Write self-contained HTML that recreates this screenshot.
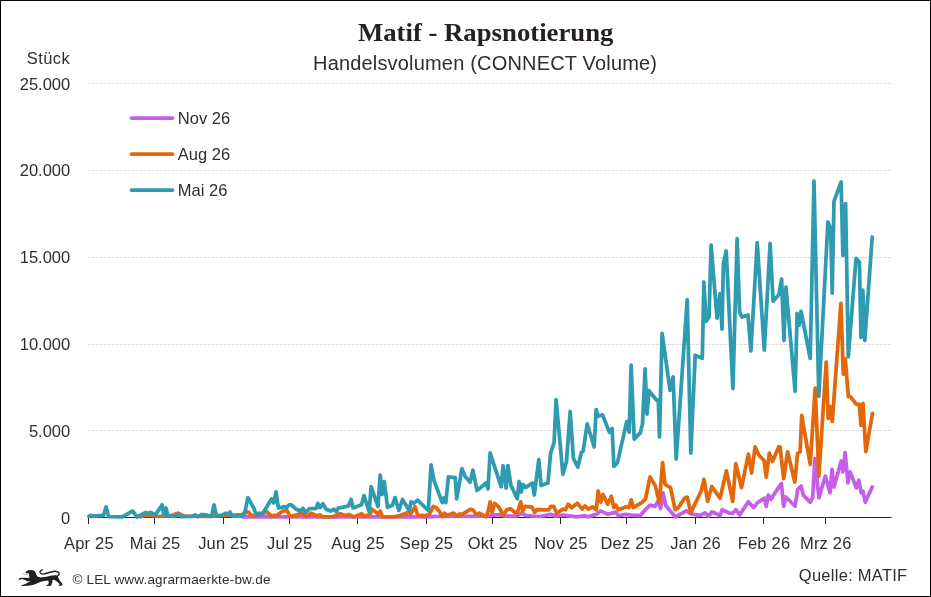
<!DOCTYPE html>
<html lang="de"><head><meta charset="utf-8"><title>Matif - Rapsnotierung</title>
<style>
html,body{margin:0;padding:0;background:#fff;}
svg{display:block;}
text{font-family:"Liberation Sans",sans-serif;fill:#322d2a;}
.t{font-family:"Liberation Serif",serif;font-weight:bold;font-size:25px;fill:#26211e;}
.s{font-size:20px;}
.a{font-size:16.5px;}
.x{letter-spacing:0.2px;}
.f{font-size:13.5px;}
.l{fill:none;stroke-width:3.75;stroke-linejoin:round;stroke-linecap:round;}
</style></head><body>
<svg width="931" height="597" viewBox="0 0 931 597">
<rect x="0" y="0" width="931" height="597" fill="#fff"/>
<line x1="88" y1="83.5" x2="891.5" y2="83.5" stroke="#e0dddb" stroke-width="1" stroke-dasharray="3 1"/>
<line x1="88" y1="170.5" x2="891.5" y2="170.5" stroke="#e0dddb" stroke-width="1" stroke-dasharray="3 1"/>
<line x1="88" y1="257.5" x2="891.5" y2="257.5" stroke="#e0dddb" stroke-width="1" stroke-dasharray="3 1"/>
<line x1="88" y1="344.5" x2="891.5" y2="344.5" stroke="#e0dddb" stroke-width="1" stroke-dasharray="3 1"/>
<line x1="88" y1="430.5" x2="891.5" y2="430.5" stroke="#e0dddb" stroke-width="1" stroke-dasharray="3 1"/>
<line x1="88" y1="517.5" x2="891.5" y2="517.5" stroke="#2b2623" stroke-width="1"/>
<line x1="88.5" y1="517" x2="88.5" y2="524" stroke="#2b2623" stroke-width="1"/>
<line x1="154.5" y1="517" x2="154.5" y2="524" stroke="#2b2623" stroke-width="1"/>
<line x1="223.5" y1="517" x2="223.5" y2="524" stroke="#2b2623" stroke-width="1"/>
<line x1="289.5" y1="517" x2="289.5" y2="524" stroke="#2b2623" stroke-width="1"/>
<line x1="357.5" y1="517" x2="357.5" y2="524" stroke="#2b2623" stroke-width="1"/>
<line x1="426.5" y1="517" x2="426.5" y2="524" stroke="#2b2623" stroke-width="1"/>
<line x1="492.5" y1="517" x2="492.5" y2="524" stroke="#2b2623" stroke-width="1"/>
<line x1="560.5" y1="517" x2="560.5" y2="524" stroke="#2b2623" stroke-width="1"/>
<line x1="626.5" y1="517" x2="626.5" y2="524" stroke="#2b2623" stroke-width="1"/>
<line x1="695.5" y1="517" x2="695.5" y2="524" stroke="#2b2623" stroke-width="1"/>
<line x1="763.5" y1="517" x2="763.5" y2="524" stroke="#2b2623" stroke-width="1"/>
<line x1="825.5" y1="517" x2="825.5" y2="524" stroke="#2b2623" stroke-width="1"/>
<text class="t" x="485.7" y="40.8" text-anchor="middle" textLength="255.5" lengthAdjust="spacingAndGlyphs">Matif - Rapsnotierung</text>
<text class="s" x="485" y="70.3" text-anchor="middle" textLength="344" lengthAdjust="spacing">Handelsvolumen (CONNECT Volume)</text>
<text class="a" x="69.8" y="63.6" text-anchor="end" textLength="43" lengthAdjust="spacing">Stück</text>
<text class="a" x="70.2" y="89.7" text-anchor="end">25.000</text>
<text class="a" x="70.2" y="176.4" text-anchor="end">20.000</text>
<text class="a" x="70.2" y="263.2" text-anchor="end">15.000</text>
<text class="a" x="70.2" y="349.9" text-anchor="end">10.000</text>
<text class="a" x="70.2" y="436.7" text-anchor="end">5.000</text>
<text class="a" x="70.2" y="523.5" text-anchor="end">0</text>
<text class="a x" x="88.9" y="548.8" text-anchor="middle">Apr 25</text>
<text class="a x" x="155.1" y="548.8" text-anchor="middle">Mai 25</text>
<text class="a x" x="223.5" y="548.8" text-anchor="middle">Jun 25</text>
<text class="a x" x="289.7" y="548.8" text-anchor="middle">Jul 25</text>
<text class="a x" x="358.1" y="548.8" text-anchor="middle">Aug 25</text>
<text class="a x" x="426.5" y="548.8" text-anchor="middle">Sep 25</text>
<text class="a x" x="492.7" y="548.8" text-anchor="middle">Okt 25</text>
<text class="a x" x="561.0" y="548.8" text-anchor="middle">Nov 25</text>
<text class="a x" x="627.2" y="548.8" text-anchor="middle">Dez 25</text>
<text class="a x" x="695.6" y="548.8" text-anchor="middle">Jan 26</text>
<text class="a x" x="764.0" y="548.8" text-anchor="middle">Feb 26</text>
<text class="a x" x="825.8" y="548.8" text-anchor="middle">Mrz 26</text>
<polyline class="l" stroke="#c55fe9" points="242.5,516.8 330,516.8 425,516.9 440,516.3 486,516.2 499,514.6 505,516.1 517,515.8 521.5,513.1 526,515.5 540,516.5 550.6,514.4 555.8,516.1 562.9,515.1 577,516.9 584.9,515.6 587.5,516.9 596.3,514.4 600.7,510.9 607.7,514.4 615.7,512.1 618.3,515.6 626.2,514.4 631.5,515.1 640.3,515.6 645.6,509.5 650,505.1 655.2,506.5 658.4,500.2 660.5,508.6 663,492.9 665.7,505.5 670.9,511.8 675.5,517 686.6,510.7 690.8,513.9 700.2,515.3 704.8,512.8 708.6,516 711.8,511.8 720.1,515.5 722.2,509.7 728.5,512.8 732.7,513.4 735.8,509.7 739.6,514.9 748.4,501.7 753.6,507.6 757.8,502.3 764.7,498.2 766.2,506.5 768.3,495 771,499.2 775.6,491.9 781.4,483.6 783.7,506.3 785.9,497 795.1,506.3 797.6,489.5 801,486.1 803.5,495.4 810.2,502.1 812.7,497.9 814.9,458.5 818.9,497.9 825.3,476.1 830,492.8 832,469.4 834,487 841.2,461 842.9,471.9 845.1,452.6 847.9,482.8 850.1,471.9 856.3,487.8 858.8,480.3 861.3,492.8 863,491.2 865.2,502.1 872.2,487"/>
<polyline class="l" stroke="#e2680a" points="140.5,516.8 146,515.3 152,515.5 158,516.5 170,516 177.8,513.2 184,516 200,516.5 211.6,516.4 242.5,514.5 247.9,511.9 252.8,516.4 259.3,514.5 267,511.9 271.5,516.4 274.1,515.1 276,516.1 282.5,511.2 287,510.6 290.2,516.4 296,515.1 301.8,513.2 306.3,516.7 310.9,513.2 316.7,515.8 320.2,515 322.7,516.9 333.1,516.7 340.2,513.7 346,515.6 348.8,514.4 353.7,516.9 357.6,515.6 361.5,513.7 364.7,516.7 367.9,515 369.8,515 372,509.2 378,513.7 380.2,511.1 382.7,516.9 395,516.7 400.2,515.6 407.9,512.4 411.1,513.7 415,506.6 417.6,515 426,515.9 429.8,513.5 433.3,506.4 436.3,507.8 440.1,512.4 442.3,516.6 444.3,513.1 446.9,515.4 453.6,513.1 456.7,516.1 460,513.9 461.9,514.6 470.2,509.3 473.2,510.1 476.3,514.6 479.3,513.1 486.1,516.9 488.3,510.9 490.1,501.8 492.1,512.4 494.7,503.3 498.9,507.1 503.4,515.4 506.4,510.1 510.2,508.6 517,513.9 520.7,501.8 522.7,510.9 525.3,506.3 532,507.1 534.8,512.4 536.6,509.7 548.8,509.8 550.9,506.3 553.7,506.3 556.7,513.3 562.9,509.1 565.5,509.8 568.2,504.2 571.7,507.7 577.3,503.3 582.2,509.1 584.9,505.9 588.4,509.1 592.8,506.8 596.3,509.8 598.1,491 600.7,502.4 603,494.5 607.7,504.2 611.3,496.3 613.9,507.7 616,505.1 618.3,509.8 626.2,506.8 628.9,507.7 631.2,499.8 633.3,507.7 642.1,502.4 645.6,498.9 650,476.9 655.2,485.6 659.4,502.3 662.6,462.6 665.1,484.5 670.5,487.7 675.1,509.7 678.3,507.6 684.5,498.2 687.3,497.1 690.8,512.8 701.3,490.8 704,479.3 707.6,501.3 711.8,486.6 720.1,498.2 726.4,470.9 732.7,501.3 735.8,463.6 741.5,487.7 748.4,454.2 751.5,473 755.1,446.9 758.9,455.2 764.1,460.5 766.2,477.2 769.3,453.1 772.5,461.5 778.7,446.9 780,446.8 783.7,478.6 787.6,451.8 794.8,482 797.6,453.5 800.1,451.8 801.7,415.4 810.2,464.4 815.2,388.2 818.9,476.1 826.2,362.1 828.2,418.4 829.8,406.3 832.3,421.4 840.9,303.3 843.3,374.2 845.3,359 848.3,396.3 850.4,396.7 856.4,404.3 859.4,404.3 861,425.4 863,403.3 865.8,451.6 872.5,413.4"/>
<polyline class="l" stroke="#2e9bb0" points="88.9,516.4 90.8,515.4 92.7,516.1 103.6,515.3 106.1,506.9 108.6,516.6 122.4,516.8 132.7,511 137.2,517 145.6,512.5 148.2,513.2 150.7,512.3 155.3,515.1 162.1,504.8 163.9,516.4 166,508 168.1,515.8 175.2,516.4 179.1,514.5 181,516.7 192,516.4 195.2,514.9 197.8,516.7 201.7,514.5 205.2,514.9 211.6,516.4 213.9,504.8 216.5,515.8 221.9,515.1 225.8,513.2 227.7,514.5 229.9,511.9 232.2,516.1 242.5,516.1 245.1,511.2 247.9,497.7 254.1,508.7 256.1,515.1 258.6,513.2 262.5,513.8 271.5,499 273.7,502.9 276,491.9 278.4,508 285.1,506.7 286.6,508 288.9,504.8 291.5,504.8 295.4,508.7 299.9,511.2 302.9,508.4 305.7,512.3 309.6,508.7 316,508.4 317.8,503.4 319.9,507.6 323,503.8 326,509.2 330.5,511.1 334.1,509.2 336.3,511.8 338.2,508.2 348.5,506 351.1,499.5 353.1,507.9 361.5,504.7 364,495.6 369.2,511.8 371.1,486.6 378,506.6 380.2,475 382.1,494.4 384.3,481.5 387.5,507.3 392.4,505.3 395,497.6 398.9,510.5 402.5,499.5 409.2,510.5 411.1,501.7 413.7,503.4 417.6,500.2 428.3,510.5 431.1,464.8 434,480.7 442.3,502.6 443.8,498 445.8,502.6 448.4,476.9 455.2,477.7 456.7,498.8 461.9,468.6 465,476.2 470.2,482.2 472.9,470.2 477,490.5 486.1,483 488,489 490.1,452.8 501.1,486.7 503.1,465.6 506.1,488.2 507.9,465.6 510.9,485.2 517.3,498.8 519.2,481.5 521.2,492 523,484.5 525.7,487.5 532.3,483 534.3,495 538.8,459.6 541.1,485.5 547.9,483.1 550.6,453.2 554.1,442.6 556.1,399.7 562.9,474.3 566.4,462 570.2,411.5 573.4,458.4 577.8,467.2 581.4,452.3 583.1,451.4 587.2,423.9 594.2,447 596.1,409.6 598,416.3 602.6,414.8 609.3,432.2 612.1,428.4 613.9,466.4 617.4,462.8 626.7,421.6 629.2,432.2 631.1,365.1 634.2,439.1 640.3,432.9 642.5,423.9 645.1,368.8 647,414.1 648.9,390.7 656.4,400 658.3,400 659.5,437 662.1,333.4 670.1,390.4 673.1,377 676.2,459 687.2,299.6 690.8,453.1 695.2,355.2 702.3,358.2 703.9,282 706.1,321.5 709,317.3 711.1,245.1 717,318.2 720,293.7 722,329.2 723.4,263.5 726.2,251 732.9,388.7 737.1,238.7 739.6,312.1 742.1,317.1 748,315 750.9,351 757.2,242.6 764.3,350.2 770.1,243.4 773.1,301.2 779,294.5 781.6,279 784,340.5 786,287.2 795.1,391.3 797.1,313.3 799.1,325.4 801.1,311.3 810.2,358.3 814,181 818.8,396.3 827.9,222 830.7,229 832.2,293.2 834,201.3 841.1,181.9 842.9,255.4 845.6,203.6 848.3,356.8 856,258.4 859.4,262 861,337.4 862.8,290.2 864.8,340.5 872.2,237"/>
<line x1="131.5" y1="118" x2="172.5" y2="118" stroke="#c55fe9" stroke-width="3.75" stroke-linecap="round"/>
<text class="a" x="177.8" y="123.8">Nov 26</text>
<line x1="131.5" y1="154" x2="172.5" y2="154" stroke="#e2680a" stroke-width="3.75" stroke-linecap="round"/>
<text class="a" x="177.8" y="159.8">Aug 26</text>
<line x1="131.5" y1="190.1" x2="172.5" y2="190.1" stroke="#2e9bb0" stroke-width="3.75" stroke-linecap="round"/>
<text class="a" x="177.8" y="195.9">Mai 26</text>
<text class="f" x="72.4" y="583.7" textLength="198" lengthAdjust="spacing">© LEL www.agrarmaerkte-bw.de</text>
<text class="a" x="798.8" y="580.5" textLength="108.4" lengthAdjust="spacing">Quelle: MATIF</text>
<g fill="#221f1d">
<path d="M25.65 571.9 L28.07 570.2 L32.09 570 L34.5 571 L35.71 572.84 L36.52 575.25 L37.72 576.66 L40.94 577.5 L46.48 576.76 L51.7 575.6 L55.76 575.2 L57.7 575.7 L58.66 578.5 L60.4 581.4 L62.14 583.14 L62.43 584.59 L61.56 585.75 L58.66 585.75 L58.37 585.17 L59.82 584.3 L58.08 582.56 L55.76 580.82 L54.02 579.66 L52.28 580.24 L52.57 581.98 L51.7 583.72 L51.12 585.75 L46.48 585.93 L46.19 585.17 L48.22 584.42 L48.8 582.56 L48.22 580.53 L44 580.88 L40.13 582.09 L36.11 583.7 L32.89 584.9 L28.07 585.71 L23.24 585.99 L21.23 585.71 L21.63 585.11 L24.05 584.5 L27.26 582.89 L29.68 581.49 L30.48 581.2 L29.68 580.96 L27.67 581.49 L25.25 580.08 L22.84 579.27 L20.83 579.27 L19.22 579.88 L18.61 579.27 L18.82 578.79 L20.02 578.07 L22.03 577.66 L25.25 577.66 L28.07 578.07 L29.48 577.46 L29.27 576.06 L28.87 574.04 L28.5 573.3 L26 573.3 L25.3 572.5 Z"/>
<path d="M57.5 575.9 C60.2 574.4 59.6 571.6 55.5 571.2 C51 570.9 46.5 574.1 43 574.1 C39.6 574 38.6 571.2 42.4 569.9" fill="none" stroke="#221f1d" stroke-width="1.4" stroke-linecap="round"/>
<path d="M22.5 573.6 L27.5 574.6 M26.5 575.8 L28.6 576.2" fill="none" stroke="#a9a5a2" stroke-width="0.7"/>
</g>
<rect x="0.5" y="0.5" width="930" height="596" fill="none" stroke="#000" stroke-width="1"/>
</svg>
</body></html>
